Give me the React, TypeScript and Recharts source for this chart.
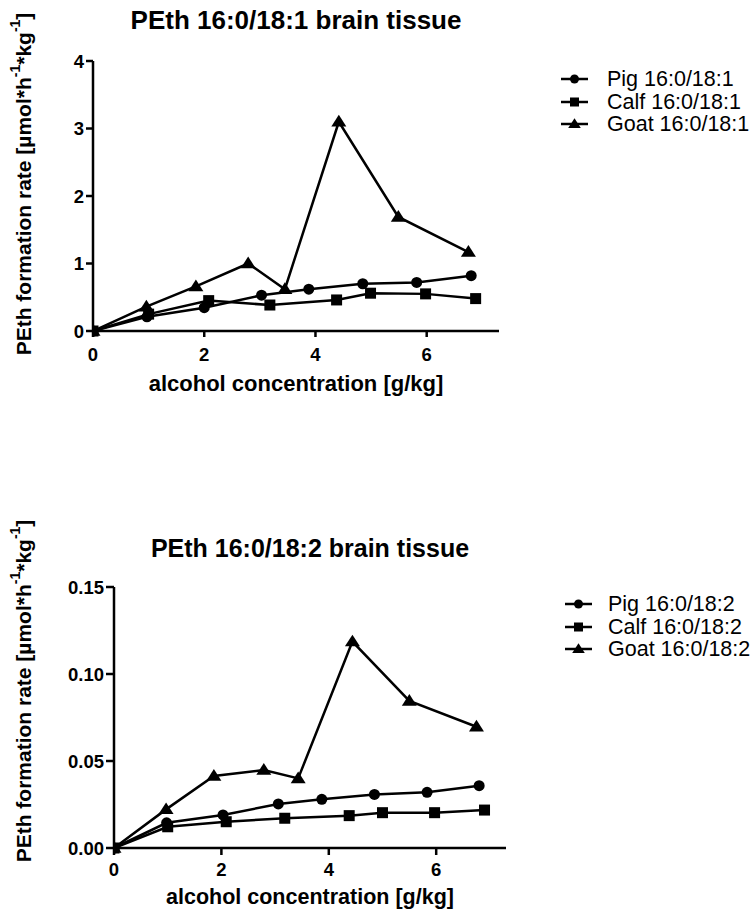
import React from "react";
import { LineChart, Line, XAxis, YAxis, Legend } from "recharts";

// ---- Chart 1: PEth 16:0/18:1 ----
const pigX1 = [0, 0.97, 2.0, 3.03, 3.88, 4.85, 5.82, 6.8];
const pigY1 = [0, 0.21, 0.345, 0.53, 0.62, 0.7, 0.72, 0.82];
const calfX1 = [0, 1.0, 2.08, 3.18, 4.38, 4.99, 5.98, 6.88];
const calfY1 = [0, 0.25, 0.45, 0.385, 0.46, 0.56, 0.55, 0.48];
const goatX1 = [0, 0.96, 1.85, 2.79, 3.45, 4.42, 5.49, 6.75];
const goatY1 = [0, 0.36, 0.66, 1.0, 0.62, 3.1, 1.69, 1.17];

// ---- Chart 2: PEth 16:0/18:2 ----
const pigX2 = [0, 0.98, 2.03, 3.06, 3.87, 4.85, 5.83, 6.8];
const pigY2 = [0, 0.0145, 0.019, 0.0253, 0.028, 0.0308, 0.032, 0.0358];
const calfX2 = [0, 1.0, 2.09, 3.18, 4.38, 5.0, 5.97, 6.9];
const calfY2 = [0, 0.0122, 0.0151, 0.0171, 0.0186, 0.0203, 0.0203, 0.0218];
const goatX2 = [0, 0.97, 1.86, 2.79, 3.43, 4.44, 5.5, 6.75];
const goatY2 = [0, 0.0222, 0.0414, 0.0448, 0.04, 0.1186, 0.0845, 0.0697];

const xTicks = [0, 2, 4, 6];
const yTicks1 = [0, 1, 2, 3, 4];
const yTicks2 = [0, 0.05, 0.1, 0.15];

const names1 = ["Pig 16:0/18:1", "Calf 16:0/18:1", "Goat 16:0/18:1"];
const names2 = ["Pig 16:0/18:2", "Calf 16:0/18:2", "Goat 16:0/18:2"];
const title1 = "PEth 16:0/18:1 brain tissue";
const title2 = "PEth 16:0/18:2 brain tissue";
const xLabel = "alcohol concentration [g/kg]";

const zip = (xs: number[], ys: number[]) => xs.map((x, i) => ({ x, y: ys[i] }));

const FONT = "'Liberation Sans', Arial, Helvetica, sans-serif";

type Shape = "circle" | "square" | "triangle";
const shapes: Shape[] = ["circle", "square", "triangle"];

function Marker({ cx, cy, shape, s }: { cx: number; cy: number; shape: Shape; s: number }) {
  if (shape === "circle") return <circle cx={cx} cy={cy} r={s * 0.5} fill="#000" />;
  if (shape === "square")
    return <rect x={cx - s * 0.5} y={cy - s * 0.5} width={s} height={s} fill="#000" />;
  const h = s * 0.9;
  return (
    <polygon
      points={`${cx},${cy - h * 0.62} ${cx - s * 0.6},${cy + h * 0.42} ${cx + s * 0.6},${cy + h * 0.42}`}
      fill="#000"
    />
  );
}

const makeDot = (shape: Shape, s: number) => (props: any) => {
  const { cx, cy, index } = props;
  if (cx == null || cy == null) return <g key={`d-${shape}-${index}`} />;
  return (
    <g key={`d-${shape}-${index}`}>
      <Marker cx={cx} cy={cy} shape={shape} s={s} />
    </g>
  );
};

const dotSizes: Record<Shape, number> = { circle: 11, square: 11, triangle: 12.5 };

function LegendBox({ names, iconW }: { names: string[]; iconW: number }) {
  return (
    <div style={{ fontFamily: FONT, fontSize: 21.5, color: "#000" }}>
      {names.map((n, i) => (
        <div key={n} style={{ display: "flex", alignItems: "center", height: 22.5 }}>
          <svg width={iconW} height={16} style={{ display: "block", flex: "none" }}>
            <line x1={0} y1={8} x2={27} y2={8} stroke="#000" strokeWidth={2.5} />
            <Marker cx={13.5} cy={8} shape={shapes[i]} s={shapes[i] === "triangle" ? 10.5 : 9} />
          </svg>
          <span style={{ whiteSpace: "nowrap", lineHeight: "22.5px" }}>{n}</span>
        </div>
      ))}
    </div>
  );
}

function YLabel({ x, y }: { x: number; y: number }) {
  return (
    <text
      transform={`translate(${x},${y}) rotate(-90)`}
      textAnchor="middle"
      dominantBaseline="central"
      fontFamily={FONT}
      fontWeight="bold"
      fontSize={21}
      fill="#000"
    >
      PEth formation rate [µmol*h
      <tspan dy={-8} fontSize={14}>-1</tspan>
      <tspan dy={8}>*kg</tspan>
      <tspan dy={-8} fontSize={14}>-1</tspan>
      <tspan dy={8}>]</tspan>
    </text>
  );
}

type PanelProps = {
  top: number;
  height: number;
  margin: { top: number; right: number; bottom: number; left: number };
  yWidth: number;
  xHeight: number;
  series: { name: string; data: { x: number; y: number }[] }[];
  yDomain: [number, number];
  yTicks: number[];
  yFmt: (v: number) => string;
  yTickSize: number;
  yTickMargin: number;
  xTickSize: number;
  xTickMargin: number;
  title: string;
  titleY: number;
  titleSize: number;
  xLabelDy: number;
  xLabelSize: number;
  yLabelPos: { x: number; y: number };
  legendPos: { left: number; top: number };
  legendIconW: number;
};

function Panel(p: PanelProps) {
  const tickStyle = { fontFamily: FONT, fontWeight: "bold" as const, fontSize: 18.5, fill: "#000" };
  return (
    <div style={{ position: "absolute", left: 0, top: p.top }}>
      <LineChart width={752} height={p.height} margin={p.margin}>
        <XAxis
          type="number"
          dataKey="x"
          domain={[0, 7.3]}
          ticks={xTicks}
          allowDataOverflow
          height={p.xHeight}
          axisLine={{ stroke: "#000", strokeWidth: 2.5 }}
          tickLine={{ stroke: "#000", strokeWidth: 2.5 }}
          tickSize={p.xTickSize}
          tickMargin={p.xTickMargin}
          tick={tickStyle}
          label={{
            content: (lp: any) => {
              const vb = lp.viewBox || {};
              const cx = (vb.x ?? 0) + (vb.width ?? 0) / 2;
              return (
                <g>
                  <text
                    x={cx}
                    y={(vb.y ?? 0) + p.xLabelDy}
                    textAnchor="middle"
                    dominantBaseline="central"
                    fontFamily={FONT}
                    fontWeight="bold"
                    fontSize={p.xLabelSize}
                    fill="#000"
                  >
                    {xLabel}
                  </text>
                  <text
                    x={cx}
                    y={p.titleY}
                    textAnchor="middle"
                    dominantBaseline="central"
                    fontFamily={FONT}
                    fontWeight="bold"
                    fontSize={p.titleSize}
                    fill="#000"
                  >
                    {p.title}
                  </text>
                </g>
              );
            },
          }}
        />
        <YAxis
          type="number"
          domain={p.yDomain}
          ticks={p.yTicks}
          width={p.yWidth}
          interval={0}
          axisLine={{ stroke: "#000", strokeWidth: 2.5 }}
          tickLine={{ stroke: "#000", strokeWidth: 2.5 }}
          tickSize={p.yTickSize}
          tickMargin={p.yTickMargin}
          tick={tickStyle}
          tickFormatter={p.yFmt}
          label={{ content: () => <YLabel x={p.yLabelPos.x} y={p.yLabelPos.y} /> }}
        />
        <Legend
          layout="vertical"
          align="center"
          verticalAlign="middle"
          wrapperStyle={{ position: "absolute", left: p.legendPos.left, top: p.legendPos.top, width: 200 }}
          content={() => <LegendBox names={p.series.map((s) => s.name)} iconW={p.legendIconW} />}
        />
        {p.series.map((s, i) => (
          <Line
            key={s.name}
            name={s.name}
            data={s.data}
            dataKey="y"
            type="linear"
            stroke="#000"
            strokeWidth={2.5}
            dot={makeDot(shapes[i], dotSizes[shapes[i]])}
            activeDot={false}
            isAnimationActive={false}
          />
        ))}
      </LineChart>
    </div>
  );
}

export default function App() {
  const series1 = [
    { name: names1[0], data: zip(pigX1, pigY1) },
    { name: names1[1], data: zip(calfX1, calfY1) },
    { name: names1[2], data: zip(goatX1, goatY1) },
  ];
  const series2 = [
    { name: names2[0], data: zip(pigX2, pigY2) },
    { name: names2[1], data: zip(calfX2, calfY2) },
    { name: names2[2], data: zip(goatX2, goatY2) },
  ];
  return (
    <div
      style={{
        position: "absolute",
        left: 0,
        top: 0,
        width: 752,
        height: 909,
        background: "#fff",
        overflow: "hidden",
      }}
    >
      <Panel
        top={0}
        height={460}
        margin={{ top: 61, right: 253, bottom: 69, left: 53 }}
        yWidth={40}
        xHeight={60}
        series={series1}
        yDomain={[0, 4]}
        yTicks={yTicks1}
        yFmt={(v) => String(v)}
        yTickSize={7}
        yTickMargin={2}
        xTickSize={6}
        xTickMargin={11}
        title={title1}
        titleY={20}
        titleSize={26}
        xLabelDy={52}
        xLabelSize={22}
        yLabelPos={{ x: 23, y: 184 }}
        legendPos={{ left: 561, top: 68 }}
        legendIconW={46}
      />
      <Panel
        top={460}
        height={449}
        margin={{ top: 127, right: 246, bottom: 21, left: 64 }}
        yWidth={50}
        xHeight={40}
        series={series2}
        yDomain={[0, 0.15]}
        yTicks={yTicks2}
        yFmt={(v) => v.toFixed(2)}
        yTickSize={8}
        yTickMargin={2}
        xTickSize={7}
        xTickMargin={8}
        title={title2}
        titleY={88}
        titleSize={25}
        xLabelDy={49}
        xLabelSize={21.5}
        yLabelPos={{ x: 23, y: 231 }}
        legendPos={{ left: 565, top: 133 }}
        legendIconW={43}
      />
    </div>
  );
}
